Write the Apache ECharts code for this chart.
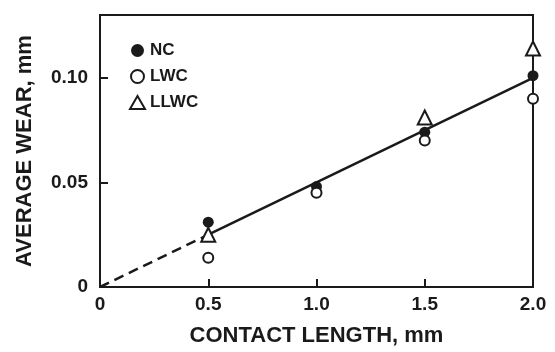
<!DOCTYPE html>
<html>
<head>
<meta charset="utf-8">
<script src="https://cdn.jsdelivr.net/npm/echarts@6/dist/echarts.min.js"></script>
<style>
    html, body { margin: 0; padding: 0; background: #fff; }
    #chart { width: 555px; height: 352px; }
</style>
</head>
<body>
<div id="chart"></div>
<script>
    // contact length (mm) at which wear was measured
    var contactLength = [0.5, 1.0, 1.5, 2.0]
    // average wear (mm) for each specimen type (LLWC at 1.0 is hidden in the original)
    var ncWear = [0.031, 0.048, 0.074, 0.101]
    var lwcWear = [0.014, 0.045, 0.070, 0.090]
    var llwcWear = [0.025, null, 0.081, 0.114]
    // fitted line: dashed extrapolation to the origin, solid over the data
    var fitDashed = [[0, 0], [0.5, 0.025]]
    var fitSolid = [[0.5, 0.025], [2.0, 0.100]]
    var xTickLabels = {0: '0', 0.5: '0.5', 1: '1.0', 1.5: '1.5', 2: '2.0'}
    var yTickLabels = {0: '0', 0.05: '0.05', 0.1: '0.10'}

    function pairs(ys) {
        return contactLength.map(function (x, i) { return [x, ys[i]] })
    }

    var ink = '#1a1a1a'
    var font = '"Liberation Sans", Arial, sans-serif'

    var chart = echarts.init(document.getElementById('chart'))
    chart.setOption({
        backgroundColor: '#fff',
        animation: false,
        grid: {
            left: 100,
            right: 22,
            top: 15,
            bottom: 65,
            show: true,
            borderColor: ink,
            borderWidth: 2
        },
        legend: {
            orient: 'vertical',
            left: 124,
            top: 37,
            itemGap: 9,
            itemWidth: 15,
            itemHeight: 13,
            data: ['NC', 'LWC', 'LLWC'],
            textStyle: { color: ink, fontFamily: font, fontWeight: 'bold', fontSize: 17 }
        },
        xAxis: {
            type: 'value',
            min: 0,
            max: 2,
            interval: 0.5,
            name: 'CONTACT LENGTH, mm',
            nameLocation: 'middle',
            nameGap: 38,
            nameTextStyle: { color: ink, fontFamily: font, fontWeight: 'bold', fontSize: 22 },
            axisLine: { lineStyle: { color: ink, width: 2 } },
            axisTick: { inside: true, length: 8, lineStyle: { color: ink, width: 2 } },
            axisLabel: {
                color: ink, fontFamily: font, fontWeight: 'bold', fontSize: 19, margin: 8,
                formatter: function (v) { return xTickLabels[v] }
            },
            splitLine: { show: false }
        },
        yAxis: {
            type: 'value',
            min: 0,
            max: 0.13,
            interval: 0.05,
            name: 'AVERAGE WEAR, mm',
            nameLocation: 'middle',
            nameGap: 64,
            nameTextStyle: { color: ink, fontFamily: font, fontWeight: 'bold', fontSize: 22 },
            axisLine: { lineStyle: { color: ink, width: 2 } },
            axisTick: { inside: true, length: 8, lineStyle: { color: ink, width: 2 } },
            axisLabel: {
                color: ink, fontFamily: font, fontWeight: 'bold', fontSize: 19, margin: 12,
                showMaxLabel: false,
                formatter: function (v) {
                    var k = Math.round(v * 100) / 100
                    return yTickLabels[k] !== undefined ? yTickLabels[k] : ''
                }
            },
            splitLine: { show: false }
        },
        series: [
            {
                name: 'fit dashed',
                type: 'line',
                data: fitDashed,
                symbol: 'none',
                z: 1,
                lineStyle: { color: ink, width: 2.5, type: [10, 6] }
            },
            {
                name: 'fit',
                type: 'line',
                data: fitSolid,
                symbol: 'none',
                z: 1,
                lineStyle: { color: ink, width: 2.5 }
            },
            {
                name: 'NC',
                type: 'scatter',
                data: pairs(ncWear),
                symbol: 'circle',
                symbolSize: 11,
                z: 3,
                itemStyle: { color: ink, opacity: 1 }
            },
            {
                name: 'LWC',
                type: 'scatter',
                data: pairs(lwcWear),
                symbol: 'circle',
                symbolSize: 10,
                z: 3,
                itemStyle: { color: '#fff', borderColor: ink, borderWidth: 2, opacity: 1 }
            },
            {
                name: 'LLWC',
                type: 'scatter',
                data: pairs(llwcWear),
                symbol: 'triangle',
                symbolSize: 14,
                z: 2,
                itemStyle: { color: '#fff', borderColor: ink, borderWidth: 2, opacity: 1 }
            }
        ]
    })
</script>
</body>
</html>
